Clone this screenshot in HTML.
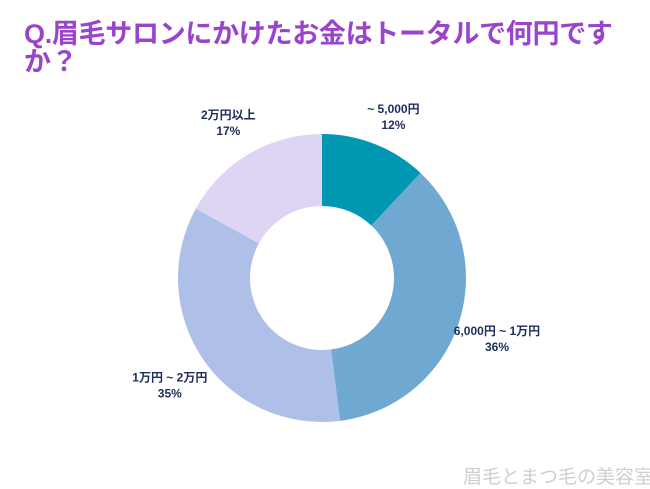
<!DOCTYPE html>
<html><head><meta charset="utf-8"><style>
body{margin:0;width:650px;height:488px;background:#fff;overflow:hidden;font-family:"Liberation Sans","Noto Sans CJK JP",sans-serif;}
#title{position:absolute;left:24px;top:20px;width:620px;font-size:27px;font-weight:bold;color:#9a44cc;line-height:28px;letter-spacing:-0.3px;}
#wm{position:absolute;left:463px;top:462px;font-size:19px;color:#cfcfcf;white-space:nowrap;}
</style></head><body>
<div id="title">Q.眉毛サロンにかけたお金はトータルで何円ですか？</div>
<svg id="chart" width="650" height="488" style="position:absolute;left:0;top:0"></svg>
<div id="wm">眉毛とまつ毛の美容室</div>
<script>
const categories=["~ 5,000円","6,000円 ~ 1万円","1万円 ~ 2万円","2万円以上"];
const values=[12,36,35,17];
const colors=["#0097b2","#6fa8d0","#aebfe8","#ddd5f3"];
const NS="http://www.w3.org/2000/svg";
const svg=document.getElementById('chart');
const cx=322,cy=278,R=144,r=72;
const total=values.reduce((a,b)=>a+b,0);
function pt(a,rad){return [cx+rad*Math.sin(a),cy-rad*Math.cos(a)];}
let acc=0;
values.forEach((v,i)=>{
  const a0=acc/total*2*Math.PI; acc+=v; const a1=acc/total*2*Math.PI;
  const large=(a1-a0)>Math.PI?1:0;
  const [x0,y0]=pt(a0,R),[x1,y1]=pt(a1,R),[x2,y2]=pt(a1,r),[x3,y3]=pt(a0,r);
  const p=document.createElementNS(NS,'path');
  p.setAttribute('d',`M${x0},${y0}A${R},${R} 0 ${large} 1 ${x1},${y1}L${x2},${y2}A${r},${r} 0 ${large} 0 ${x3},${y3}Z`);
  p.setAttribute('fill',colors[i]);
  
  
  svg.appendChild(p);
  const am=(a0+a1)/2;
  let [lx,ly]=pt(am,R+40);
  if(i===0){lx=pt(am,R+50)[0];ly=113;}
  if(i===3){ly=119;}
  [[categories[i],0],[v+'%',16]].forEach(([t,dy],k)=>{
    const tx=document.createElementNS(NS,'text');
    tx.setAttribute('x',lx);tx.setAttribute('y',ly+dy);
    tx.setAttribute('text-anchor','middle');
    tx.setAttribute('font-size','12');tx.setAttribute('font-weight','bold');
    tx.setAttribute('fill','#1e2d5c');
    tx.textContent=t;
    
    
    svg.appendChild(tx);
  });
});
</script>
</body></html>
